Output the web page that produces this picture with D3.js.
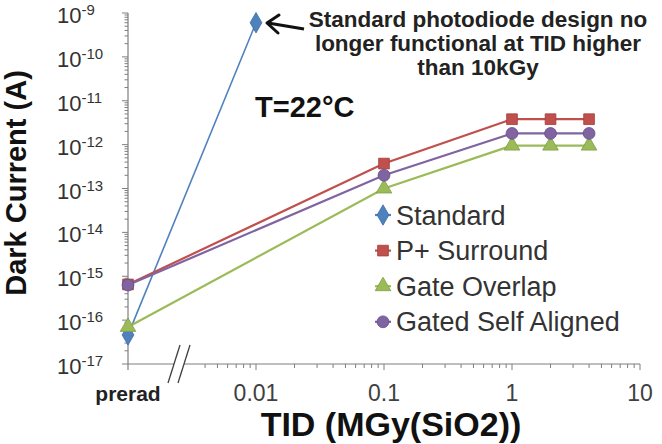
<!DOCTYPE html>
<html>
<head>
<meta charset="utf-8">
<script src="https://cdn.jsdelivr.net/npm/d3@7"></script>
<style>
  html, body { margin: 0; padding: 0; background: #fff; }
  svg { display: block; font-family: "Liberation Sans", Arial, sans-serif; }
</style>
</head>
<body>
<svg id="chart" width="662" height="444"></svg>
<script>
// ---- data ----
const seriesNames = ["Standard", "P+ Surround", "Gate Overlap", "Gated Self Aligned"];
const seriesColors = ["#4F81BD", "#C0504D", "#9BBB59", "#8064A2"];
const seriesStroke = ["#3B6BA8", "#A33E3B", "#7E9E45", "#654D87"];
const seriesSymbols = ["diamond", "square", "triangle", "circle"];
const preradX = 0.001;               // "prerad" plotted at the left end of the axis
const standardX = [preradX, 0.01];
const standardY = [4.6e-17, 6e-10];
const otherX = [preradX, 0.1, 1, 2, 4];
const pSurroundY = [6.5e-16, 3.7e-13, 3.8e-12, 3.8e-12, 3.8e-12];
const gateOverlapY = [7e-17, 1e-13, 9.5e-13, 9.5e-13, 9.5e-13];
const gatedSelfAlignedY = [6.3e-16, 2e-13, 1.8e-12, 1.8e-12, 1.8e-12];
const xTickValues = [0.001, 0.01, 0.1, 1, 10];
const xTickLabels = ["prerad", "0.01", "0.1", "1", "10"];
const yTickExponents = [-9, -10, -11, -12, -13, -14, -15, -16, -17];
const yTitle = "Dark Current (A)";
const xTitle = "TID (MGy(SiO2))";
const tempLabel = "T=22°C";
const noteLines = ["Standard photodiode design no", "longer functional at TID higher", "than 10kGy"];

const seriesX = [standardX, otherX, otherX, otherX];
const seriesY = [standardY, pSurroundY, gateOverlapY, gatedSelfAlignedY];

// ---- layout ----
const svg = d3.select("#chart");
const x = d3.scaleLog().domain([0.001, 10]).range([128, 640]);
const y = d3.scaleLog().domain([1e-17, 1e-9]).range([364, 13]);
const axisColor = "#7f7f7f";

// y minor/major ticks
const yTicks = [];
for (let e = -17; e < -9; e++) for (let m = 1; m < 10; m++) yTicks.push({v: m * Math.pow(10, e), major: m === 1});
yTicks.push({v: 1e-9, major: true});
svg.append("g").selectAll("line").data(yTicks).join("line")
  .attr("x1", d => 128 - (d.major ? 6 : 3.5)).attr("x2", 128)
  .attr("y1", d => y(d.v)).attr("y2", d => y(d.v))
  .attr("stroke", axisColor).attr("stroke-width", 1);

// x minor/major ticks (after the break)
const xTicks = [];
for (let e = -3; e < 1; e++) for (let m = 1; m < 10; m++) {
  const v = m * Math.pow(10, e);
  if (v < 0.0035) continue;
  xTicks.push({v, major: m === 1});
}
xTicks.push({v: 10, major: true});
svg.append("g").selectAll("line").data(xTicks).join("line")
  .attr("x1", d => x(d.v)).attr("x2", d => x(d.v))
  .attr("y1", 364).attr("y2", d => 364 + (d.major ? 6 : 4))
  .attr("stroke", axisColor).attr("stroke-width", 1);

// axis lines
svg.append("line").attr("x1", 128).attr("x2", 128).attr("y1", y(1e-9)).attr("y2", 370)
  .attr("stroke", axisColor).attr("stroke-width", 1.2);
svg.append("line").attr("x1", 128).attr("x2", x(10)).attr("y1", 364).attr("y2", 364)
  .attr("stroke", axisColor).attr("stroke-width", 1.2);

// axis break
svg.append("polygon").attr("points", "168,383 178,383 190,345 180,345").attr("fill", "#fff");
svg.append("line").attr("x1", 168).attr("y1", 383).attr("x2", 180).attr("y2", 345).attr("stroke", "#404040").attr("stroke-width", 1.3);
svg.append("line").attr("x1", 178).attr("y1", 383).attr("x2", 190).attr("y2", 345).attr("stroke", "#404040").attr("stroke-width", 1.3);

// y tick labels
const yl = svg.append("g").selectAll("text").data(yTickExponents).join("text")
  .attr("x", 57).attr("y", d => y(Math.pow(10, d)) + 10)
  .attr("fill", "#333").attr("font-size", 22);
yl.append("tspan").text("10");
yl.append("tspan").attr("dy", -8).attr("font-size", 15).text(d => String(d));

// x tick labels
svg.append("g").selectAll("text").data(xTickValues).join("text")
  .attr("x", d => x(d)).attr("y", 401).attr("text-anchor", "middle")
  .attr("font-size", (d, i) => i === 0 ? 21 : 23)
  .attr("font-weight", (d, i) => i === 0 ? "bold" : "normal")
  .attr("fill", (d, i) => i === 0 ? "#222" : "#404040")
  .text((d, i) => xTickLabels[i]);

// titles
svg.append("text").attr("transform", "translate(26,183) rotate(-90)")
  .attr("text-anchor", "middle").attr("font-weight", "bold").attr("font-size", 29)
  .attr("fill", "#111").text(yTitle);
svg.append("text").attr("x", 391).attr("y", 436)
  .attr("text-anchor", "middle").attr("font-weight", "bold").attr("font-size", 34)
  .attr("fill", "#111").text(xTitle);

// symbols
const symType = {diamond: d3.symbolDiamond, square: d3.symbolSquare, triangle: d3.symbolTriangle, circle: d3.symbolCircle};
const symSize = {diamond: 120, square: 115, triangle: 105, circle: 110};

// series
const line = d3.line().x(d => x(d[0])).y(d => y(d[1]));
seriesNames.forEach((name, i) => {
  const pts = seriesX[i].map((xv, j) => [xv, seriesY[i][j]]);
  svg.append("path").datum(pts).attr("d", line)
    .attr("fill", "none").attr("stroke", seriesColors[i])
    .attr("stroke-width", i === 0 ? 1.6 : 2.2);
  svg.append("g").selectAll("path").data(pts).join("path")
    .attr("transform", d => `translate(${x(d[0])},${y(d[1])})`)
    .attr("d", d3.symbol().type(symType[seriesSymbols[i]]).size(symSize[seriesSymbols[i]]))
    .attr("fill", seriesColors[i]).attr("stroke", seriesStroke[i]).attr("stroke-width", 0.8);
});

// legend
const lg = svg.append("g");
seriesNames.forEach((name, i) => {
  const cy = 215 + i * 35.6;
  lg.append("line").attr("x1", 375).attr("x2", 391).attr("y1", cy).attr("y2", cy)
    .attr("stroke", seriesColors[i]).attr("stroke-width", 2.2);
  lg.append("path").attr("transform", `translate(383,${cy})`)
    .attr("d", d3.symbol().type(symType[seriesSymbols[i]]).size(symSize[seriesSymbols[i]]))
    .attr("fill", seriesColors[i]).attr("stroke", seriesStroke[i]).attr("stroke-width", 0.8);
  lg.append("text").attr("x", 396).attr("y", cy + 9.5).attr("font-size", 27)
    .attr("fill", "#333").text(name);
});

// temperature label
svg.append("text").attr("x", 255).attr("y", 117).attr("font-size", 29).attr("font-weight", "bold")
  .attr("fill", "#111").text(tempLabel);

// annotation
noteLines.forEach((t, i) => {
  svg.append("text").attr("x", 478).attr("y", 27 + i * 24).attr("text-anchor", "middle")
    .attr("font-size", 22.5).attr("font-weight", "bold").attr("fill", "#222").text(t);
});
// arrow
svg.append("line").attr("x1", 304).attr("y1", 29).attr("x2", 268).attr("y2", 23)
  .attr("stroke", "#111").attr("stroke-width", 3);
svg.append("path").attr("d", "M279,15 L267,23 L278,33").attr("fill", "none")
  .attr("stroke", "#111").attr("stroke-width", 3).attr("stroke-linecap", "round").attr("stroke-linejoin", "round");
</script>
</body>
</html>
